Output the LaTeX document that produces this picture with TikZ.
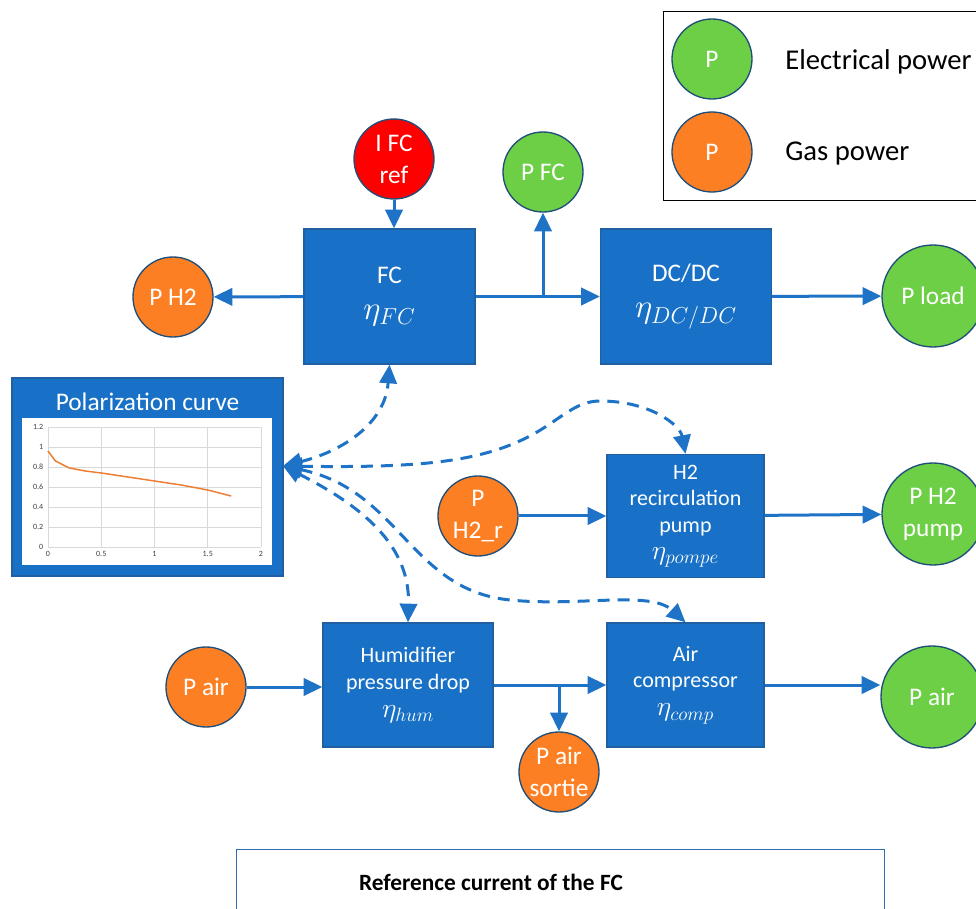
\documentclass[tikz,border=0pt]{standalone}
\usepackage{fontspec}
\setmainfont{Carlito}
\usepackage{tikz}
\usetikzlibrary{arrows.meta, shapes}
\definecolor{boxblue}{RGB}{24,113,198}
\definecolor{boxedge}{RGB}{32,96,160}
\definecolor{ringblue}{RGB}{31,78,121}
\definecolor{elecgreen}{RGB}{108,207,69}
\definecolor{gasorange}{RGB}{253,127,36}
\definecolor{arrowblue}{RGB}{31,115,198}
\definecolor{curveorange}{RGB}{237,125,49}
\definecolor{refedge}{RGB}{46,109,176}
\newcommand{\effic}[2]{{\fontsize{#1}{#1}\selectfont$\eta_{#2}$}}
\tikzstyle{block} = [draw=boxedge, fill=boxblue, rectangle, text=white, align=center, line width=1pt, font=\fontsize{16.5}{20}\selectfont]
\tikzstyle{bigblock} = [block, minimum width=128.25pt, minimum height=101.25pt, font=\fontsize{19}{22}\selectfont]
\tikzstyle{smallblock} = [block, minimum width=117.75pt, minimum height=92.25pt]
\tikzstyle{power} = [circle, draw=ringblue, line width=1pt, text=white, align=center, inner sep=0pt, minimum size=60pt, font=\fontsize{19}{24}\selectfont]
\tikzstyle{elec} = [power, fill=elecgreen]
\tikzstyle{gas} = [power, fill=gasorange]
\tikzstyle{refpower} = [power, fill=red]
\tikzstyle{loadpower} = [elec, minimum size=76.5pt]
\tikzstyle{line} = [draw=arrowblue, line width=2.25pt, -{Triangle[length=14pt, width=13pt]}]
\tikzstyle{dline} = [line, dash pattern=on 9pt off 6pt, {Triangle[length=14pt, width=13pt]}-{Triangle[length=14pt, width=13pt]}]

\begin{document}
\begin{tikzpicture}[x=0.75pt, y=-0.75pt]
    \useasboundingbox (0,0) rectangle (976,909);
    % Create Blocks
    \node [bigblock] (fc) at (389.5,296.5) {FC\\[5pt]\effic{23}{FC}};
    \node [bigblock] (dcdc) at (686,296.5) {DC/DC\\[5pt]\effic{23}{DC/DC}};
    \node [smallblock] (pump) at (685.5,516) {H2\\recirculation\\pump\\[0pt]\effic{20}{pompe}};
    \node [block, minimum width=127.5pt, minimum height=93pt] (humid) at (408,685) {Humidifier\\pressure drop\\[1pt]\effic{20}{hum}};
    \node [smallblock, minimum height=93pt] (comp) at (685.5,685) {Air\\compressor\\[1pt]\effic{20}{comp}};

    % Power circles
    \node [refpower] (iref) at (394,159) {I FC\\ref};
    \node [elec] (pfc) at (543,172) {P FC};
    \node [gas] (ph2) at (173,297) {P H2};
    \node [loadpower] (pload) at (933,296) {P load};
    \node [gas] (ph2r) at (478,516) {P\\H2\_r};
    \node [loadpower] (ph2pump) at (933,514) {P H2\\pump};
    \node [gas] (pairin) at (206,687) {P air};
    \node [gas] (psortie) at (559,772) {P air\\sortie};
    \node [loadpower] (pairout) at (932,697) {P air};

    % Legend
    \node [draw=black, line width=1pt, minimum width=252.75pt, minimum height=141.75pt, anchor=north west] (legend) at (663,11) {};
    \node [elec] (legelec) at (712,59) {P};
    \node [gas] (leggas) at (712,152) {P};
    \node [anchor=west, inner sep=0pt, font=\fontsize{21.5}{24}\selectfont] (legelectext) at (785,62) {Electrical power};
    \node [anchor=west, inner sep=0pt, font=\fontsize{21.5}{24}\selectfont] (leggastext) at (785,154) {Gas power};

    % Polarization curve
    \node [block, minimum width=203.25pt, minimum height=148.5pt] (polar) at (147.5,477) {};
    \node [text=white, font=\fontsize{19}{22}\selectfont] (polartitle) at (147.5,402) {Polarization curve};
    \fill [white] (22,418) rectangle (272,565);
    \begin{scope}[shift={(36pt,-410.25pt)}, x=79.875pt, y=75pt, font=\fontsize{6}{7}\selectfont, text=darkgray]
        \foreach \i/\lab in {0/0,1/0.2,2/0.4,3/0.6,4/0.8,5/1,6/1.2} {
            \draw [gray!30, line width=0.6pt] (0,\i*0.2) -- (2,\i*0.2);
            \node [anchor=east, inner sep=1pt] (ylab\i) at (-0.03,\i*0.2) {\lab};
        }
        \foreach \i/\lab in {0/0,1/0.5,2/1,3/1.5,4/2} {
            \draw [gray!30, line width=0.6pt] (\i*0.5,0) -- (\i*0.5,1.2);
            \node [anchor=north, inner sep=1pt] (xlab\i) at (\i*0.5,-0.03) {\lab};
        }
        \draw [curveorange, line width=1.1pt] plot coordinates {(0,0.96) (0.07,0.86) (0.2,0.79) (0.35,0.76) (0.5,0.74) (0.75,0.70) (1,0.66) (1.25,0.62) (1.5,0.57) (1.72,0.51)};
    \end{scope}

    % Bottom box
    \node [draw=refedge, line width=1pt, minimum width=486pt, minimum height=49.5pt, anchor=north west] (refbox) at (236,849) {};
    \node [font=\bfseries\fontsize{17.5}{22}\selectfont] (reftext) at (491,882) {Reference current of the FC};

    % Add Arrows
    \path [line] (iref) -- (iref |- fc.north);
    \path [line] (fc) -- (dcdc);
    \coordinate (jfc) at (pfc |- fc.east);
    \path [line] (jfc) -- (pfc);
    \path [line] (fc) -- (ph2);
    \path [line] (dcdc) -- (pload);
    \path [line] (ph2r) -- (ph2r -| pump.west);
    \path [line] (pump) -- (ph2pump);
    \path [line] (pairin) -- (pairin -| humid.west);
    \path [line] (humid) -- (comp);
    \coordinate (jair) at (psortie |- humid.east);
    \path [line] (jair) -- (psortie);
    \path [line] (comp.east) -- (comp.east -| pairout.west);

    % Dashed links
    \coordinate (pcout) at (283,466);
    \path [dline] (pcout) .. controls (340,452) and (385,425) .. (fc.south);
    \path [dline] (pcout) .. controls (420,468) and (480,462) .. (530,436) .. controls (560,420) and (575,401) .. (600,401) .. controls (650,401) and (680,425) .. (pump.north);
    \path [dline] (pcout) .. controls (370,510) and (410,550) .. (humid.north);
    \path [dline] (pcout) .. controls (400,490) and (410,590) .. (510,600) .. controls (580,607) and (650,590) .. (comp.north);
\end{tikzpicture}
\end{document}
